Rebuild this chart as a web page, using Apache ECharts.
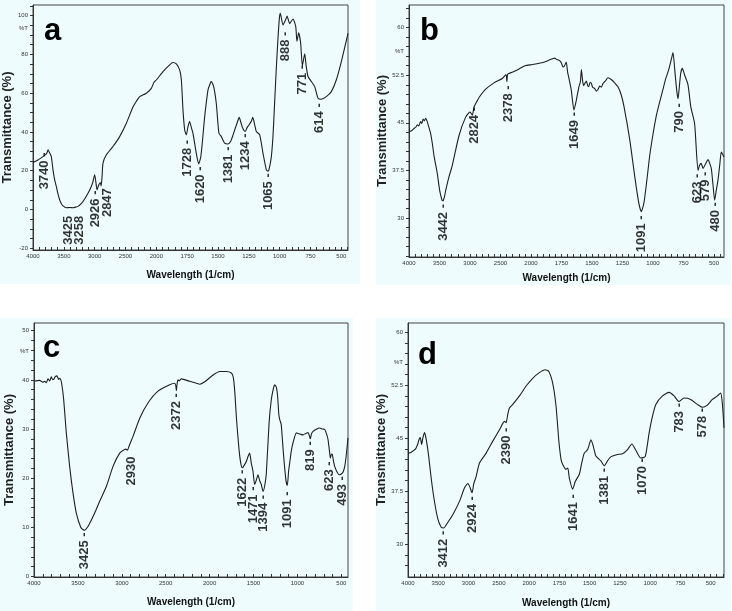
<!DOCTYPE html>
<html><head><meta charset="utf-8">
<script src="https://cdn.jsdelivr.net/npm/echarts@6/dist/echarts.min.js"></script>
<style>html,body{margin:0;padding:0;background:#fff}#c{width:732px;height:611px}</style>
</head><body><div id="c"></div><script>
// ---------- tick labels ----------
const tickLabelsSplit = ['4000','3500','3000','2500','2000','1750','1500','1250','1000','750','500'];
const tickLabelsLinear = [4000,3500,3000,2500,2000,1500,1000,500];
const yLabelsA = [-20,0,20,40,60,80,100];
const yLabelsB = [30,37.5,45,52.5,60];
const yLabelsC = [0,10,20,30,40,50];
const yLabelsD = [30,37.5,45,52.5,60];

// ---------- spectra: [wavenumber (1/cm), transmittance (%)] ----------
const spectrumA = [[4000,24.2],[3920,25.5],[3838,27.3],[3800,28.2],[3784,28.7],[3770,29.5],[3757,30.8],[3735,29.5],[3703,27.3],[3676,20.4],[3650,15.5],[3622,11.9],[3595,8],[3568,5],[3540,3],[3514,1.9],[3459,0.9],[3400,1.0],[3351,0.9],[3300,1.3],[3270,1.6],[3230,2.6],[3189,4.1],[3108,8.4],[3060,11.5],[3027,14.4],[3000,17.9],[2980,14],[2962,10.1],[2935,12.5],[2908,13.9],[2895,12.2],[2880,17],[2865,23.9],[2811,28.2],[2703,32.5],[2595,37.6],[2486,44.5],[2378,53],[2320,56],[2270,58.2],[2162,60],[2081,62.5],[2040,65.5],[2000,66.8],[1946,71.1],[1892,74.6],[1865,75.8],[1838,75.1],[1811,72],[1797,66.8],[1784,51.4],[1770,41],[1757,38.5],[1743,42.8],[1730,45.4],[1715,42],[1703,39.3],[1676,29],[1657,23.5],[1640,27],[1625,36],[1608,47.9],[1581,61.7],[1560,65.5],[1554,66],[1535,63.4],[1514,54.8],[1500,44],[1492,39.3],[1473,37.6],[1446,34.2],[1419,33.8],[1395,35.5],[1378,38.5],[1346,44.5],[1328,47.5],[1315,45],[1300,42],[1280,40.2],[1262,42.5],[1249,43.6],[1230,45.5],[1218,47.5],[1200,43],[1189,40.2],[1162,38.5],[1135,29],[1108,20.4],[1095,19.8],[1086,20.7],[1068,27],[1054,38],[1041,55],[1028,72],[1014,88],[1002,99],[995,101.2],[973,95.2],[951,98],[940,99.8],[919,95.9],[892,98.3],[870,94.5],[860,86.8],[846,91.1],[830,85.9],[816,74.1],[797,80.3],[785,74],[770,68.6],[743,66],[716,63.4],[689,57.4],[662,56.9],[622,58.2],[581,60.8],[541,66.8],[500,76.3],[446,90.9]];

const spectrumB = [[4000,43.6],[3950,43.8],[3918,44.1],[3890,44.3],[3863,44.7],[3840,44.5],[3809,45.2],[3790,44.9],[3770,45.6],[3750,45.3],[3727,45.7],[3705,45.3],[3683,44.6],[3645,43.3],[3617,41.7],[3590,39.8],[3536,37],[3500,34.5],[3481,33.6],[3458,32.8],[3443,32.7],[3420,33.3],[3399,34.3],[3344,36.5],[3290,38.3],[3180,43],[3071,45.9],[3000,46.7],[2962,46.2],[2934,47.5],[2880,48.5],[2852,49],[2743,50.3],[2607,51.3],[2470,52],[2410,52.6],[2395,51.5],[2380,52.7],[2300,53],[2197,53.5],[2100,54],[1989,54.2],[1888,54.6],[1850,54.9],[1806,55.2],[1790,55],[1765,54.8],[1750,54.4],[1738,53.8],[1725,54],[1711,54.6],[1700,53],[1692,52.3],[1670,50.2],[1648,47],[1628,48.6],[1607,50.7],[1595,51.5],[1587,53.4],[1576,51.5],[1568,50.9],[1556,51.3],[1546,51.6],[1536,50.9],[1527,50.7],[1515,51.4],[1505,51.2],[1495,50.6],[1484,50.5],[1474,50.3],[1464,50],[1450,50.3],[1437,50.8],[1423,50.6],[1410,51.2],[1390,51.6],[1369,52.1],[1340,51.8],[1310,51.2],[1287,50.7],[1262,49.5],[1238,47.6],[1191,42.4],[1150,36.6],[1117,32.4],[1096,31],[1074,32.4],[1050,36],[1027,39.8],[1000,43.2],[973,46.1],[945,48.3],[918,50.3],[895,52],[871,53.4],[850,55],[836,56.1],[820,53],[805,50],[795,48.8],[785,50.5],[773,52.8],[760,53.6],[740,52.5],[713,51],[690,47.5],[659,44.9],[631,37.5],[618,38.3],[605,38.6],[590,37.8],[570,38.5],[549,39.2],[535,38.6],[522,37.8],[507,35],[495,32.8],[480,34.5],[467,36],[452,38.5],[440,40.4],[418,39.6]];

const spectrumC = [[4000,39.7],[3935,39.9],[3900,39.5],[3879,39.7],[3860,39.4],[3841,40.2],[3820,39.8],[3803,40.6],[3790,40.1],[3776,40.1],[3760,40.6],[3738,40.8],[3720,40.1],[3708,40.3],[3695,40],[3685,39.3],[3662,36],[3632,29.2],[3594,22.4],[3556,17],[3518,12.9],[3468,10],[3440,9.5],[3423,9.4],[3400,9.8],[3374,10.5],[3309,12.9],[3252,15.3],[3176,18.3],[3100,22.4],[3024,25.1],[2970,25.8],[2956,25.9],[2935,25.7],[2918,26.5],[2895,27.5],[2872,28.5],[2796,32.2],[2702,35.3],[2588,37.7],[2455,39],[2398,39.3],[2385,38.8],[2379,37.8],[2370,39.2],[2360,40],[2345,39.8],[2322,40.2],[2227,39.7],[2150,39.3],[2113,39.1],[2056,39.6],[1961,41],[1885,41.7],[1809,41.7],[1752,41.4],[1735,40.8],[1726,40],[1711,37],[1696,32.6],[1665,25.8],[1645,23],[1627,22.1],[1600,22.8],[1582,23.4],[1560,24.5],[1544,25.1],[1525,23],[1506,21.4],[1487,18.7],[1470,19.5],[1449,20.7],[1430,19.5],[1411,18.7],[1392,17.3],[1372,18.5],[1354,21],[1323,31.2],[1297,36],[1270,38.5],[1259,39],[1240,38.5],[1225,36.5],[1212,33],[1200,31.8],[1185,31],[1172,28],[1150,23],[1130,19.5],[1115,18.5],[1100,21.5],[1088,23.1],[1070,25.5],[1050,27.2],[1012,29.2],[993,29.1],[960,28.9],[936,28.8],[905,29.1],[879,29.3],[862,28.5],[853,28],[840,29],[822,29.5],[780,30],[746,30.2],[715,30],[689,29.9],[665,28.8],[651,27.8],[635,25.5],[625,24.1],[612,24.9],[602,24.8],[590,23.5],[576,22.4],[550,21.3],[526,20.7],[505,20.8],[481,21.2],[460,22.5],[443,24.8],[424,28.2]];

const spectrumD = [[4000,42.9],[3950,43],[3918,43.2],[3874,43.5],[3852,43.9],[3835,44.3],[3819,44.8],[3797,45.1],[3775,44.1],[3753,45.1],[3725,45.8],[3698,44.8],[3659,42.5],[3615,39.2],[3560,35.9],[3505,33.5],[3451,32.4],[3412,32.3],[3341,33.1],[3258,34.2],[3148,36.1],[3066,38],[3011,38.6],[2973,38],[2950,37.4],[2940,37.3],[2915,38.5],[2901,38.9],[2874,39.6],[2819,41.5],[2709,42.9],[2599,44.6],[2489,46.2],[2407,47.4],[2379,47.2],[2352,48.4],[2324,49.3],[2269,49.8],[2159,51],[2049,52.4],[1970,53.5],[1915,54.3],[1868,54.7],[1838,54.5],[1805,52.8],[1777,49.5],[1755,44.8],[1736,42],[1722,41.3],[1695,40.6],[1680,40.8],[1668,39.4],[1640,37.8],[1618,38.9],[1585,39.9],[1565,41.5],[1544,42.9],[1516,43.4],[1489,44.8],[1470,43.9],[1448,42.5],[1407,41.8],[1379,41.1],[1352,41.8],[1330,42.3],[1310,42.5],[1269,42.7],[1228,42.8],[1187,43.4],[1151,44.2],[1118,43.3],[1077,42.2],[1041,42.4],[1008,45.8],[981,48.1],[953,49.8],[898,51],[843,51.5],[802,51],[761,50.2],[720,50.7],[665,50.5],[610,49.8],[569,49.4],[527,49.7],[486,50.5],[445,51],[418,51.4],[404,50],[390,46.5]];

// ---------- peak annotations: [wavenumber, transmittance at label top, text] ----------
const peaksA = [[3811,29.4,'3740 -'],[3432,-3.3,'3425'],[3243,-3.3,'3258'],[2984,9.8,'2926 -'],[2800,11,'2847'],[1751,35.9,'1728 -'],[1643,22.2,'1620 -'],[1419,32.5,'1381 -'],[1276,39.3,'1234 -'],[1095,18.7,'1065 -'],[951,91.8,'888 -'],[819,74.6,'771 -'],[676,54.8,'614 -']];
const peaksB = [[3443,32.2,'3442 -'],[2934,47.5,'2824 -'],[2372,50.9,'2378 -'],[1648,46.7,'1649 -'],[1093,30.4,'1091 -'],[787,48.1,'790 -'],[637,37,'623 -'],[568,37.3,'579 -'],[486,32.5,'480 -']];
const peaksC = [[3423,8.95,'3425 -'],[2891,24.4,'2930'],[2379,37.3,'2372 -'],[1627,21.7,'1622 -'],[1498,18.3,'1471 -'],[1392,16.6,'1394 -'],[1115,17.3,'1091 -'],[849,27.5,'819 -'],[632,23.4,'623 -'],[488,20.4,'493 -']];
const peaksD = [[3412,31.9,'3412 -'],[2940,36.8,'2924 -'],[2379,46.5,'2390 -'],[1635,37.1,'1641 -'],[1374,40.8,'1381 -'],[1063,42.2,'1070 -'],[755,50,'783 -'],[569,49.3,'578 -']];

// split wavenumber scale (4000-2000 compressed, 2000-500 expanded), in label units
function splitPos(w){ return w >= 2000 ? (4000 - w) / 500 : 4 + (2000 - w) / 250; }
function linPos(w){ return w; }

const FONT = 'Liberation Sans, Arial, sans-serif';
const panels = [
  {letter:'a', spectrum:spectrumA, peaks:peaksA, split:true, xEnd:446, yMin:-20.9, yMax:105.5, yLabels:yLabelsA, pct:93.5, yStep:5, yStart:-20,
   grid:{left:33, top:5, width:315, height:245}, gapX:20, gapY:9, title:{left:44, top:16}},
  {letter:'b', spectrum:spectrumB, peaks:peaksB, split:true, xEnd:418, yMin:23.84, yMax:63.58, yLabels:yLabelsB, pct:56.2, yStep:1.5, yStart:24,
   grid:{left:409, top:5, width:315, height:252}, gapX:16, gapY:11, title:{left:420, top:16}},
  {letter:'c', spectrum:spectrumC, peaks:peaksC, split:false, xEnd:424, yMin:-0.12, yMax:51.57, yLabels:yLabelsC, pct:45.9, yStep:2, yStart:0,
   grid:{left:34, top:323, width:314, height:254}, gapX:20, gapY:10, title:{left:43, top:333}},
  {letter:'d', spectrum:spectrumD, peaks:peaksD, split:true, xEnd:390, yMin:25.35, yMax:61.33, yLabels:yLabelsD, pct:55.8, yStep:1.5, yStart:27,
   grid:{left:408, top:323, width:316, height:254}, gapX:21, gapY:11, title:{left:418, top:340}}
];

const option = {
  animation:false,
  backgroundColor:'#ffffff',
  graphic:[
    {type:'rect', z:-10, shape:{x:0, y:0, width:360, height:284}, style:{fill:'#effcfe'}},
    {type:'rect', z:-10, shape:{x:376, y:0, width:355, height:285}, style:{fill:'#effcfe'}},
    {type:'rect', z:-10, shape:{x:0, y:318, width:353, height:293}, style:{fill:'#effcfe'}},
    {type:'rect', z:-10, shape:{x:376, y:318, width:355, height:293}, style:{fill:'#effcfe'}}
  ],
  title:[], grid:[], xAxis:[], yAxis:[], series:[]
};

panels.forEach((p, i) => {
  const pos = p.split ? splitPos : linPos;
  option.title.push({text:p.letter, left:p.title.left, top:p.title.top, padding:0,
    textStyle:{fontSize:31, fontWeight:'bold', color:'#000', fontFamily:FONT}});
  option.grid.push(Object.assign({show:true, borderColor:'#444', borderWidth:1, backgroundColor:'transparent'}, p.grid));

  let xTicks = [], xLabelVals, xFmt;
  if (p.split) {
    for (let t = 0; t <= pos(p.xEnd) + 1e-9; t += 0.2) xTicks.push(+t.toFixed(2));
    xLabelVals = tickLabelsSplit.map((_, k) => k);
    xFmt = v => tickLabelsSplit[Math.round(v)];
  } else {
    for (let w = 4000; w >= 500; w -= 100) xTicks.push(w);
    xLabelVals = tickLabelsLinear.slice();
    xFmt = v => String(v);
  }
  option.xAxis.push({
    gridIndex:i, type:'value',
    min: p.split ? 0 : p.xEnd, max: p.split ? pos(p.xEnd) : 4000, inverse: !p.split,
    axisLine:{show:true, onZero:false, lineStyle:{color:'#333', width:1}},
    axisTick:{show:true, inside:true, length:3, customValues:xTicks, lineStyle:{color:'#333'}},
    axisLabel:{show:true, customValues:xLabelVals, formatter:xFmt, fontSize:6, color:'#333', margin:3, fontFamily:FONT},
    splitLine:{show:false},
    name:'Wavelength (1/cm)', nameLocation:'middle', nameGap:p.gapX,
    nameTextStyle:{fontSize:10, fontWeight:'bold', color:'#111', fontFamily:FONT}
  });

  const yTicks = [];
  for (let v = p.yStart; v <= p.yMax + 1e-9; v += p.yStep) yTicks.push(+v.toFixed(3));
  const pct = p.pct;
  option.yAxis.push({
    gridIndex:i, type:'value', min:p.yMin, max:p.yMax,
    axisLine:{show:true, onZero:false, lineStyle:{color:'#333', width:1}},
    axisTick:{show:true, inside:false, length:3, customValues:yTicks, lineStyle:{color:'#333'}},
    axisLabel:{show:true, customValues:p.yLabels.concat([pct]), formatter:v => (Math.abs(v - pct) < 1e-6 ? '%T' : String(v)),
      fontSize:6, color:'#333', margin:5, fontFamily:FONT},
    splitLine:{show:false},
    name:'Transmittance (%)', nameLocation:'middle', nameGap:p.gapY, nameRotate:90,
    nameTextStyle:{fontSize:13, fontWeight:'bold', color:'#222', fontFamily:FONT}
  });

  option.series.push({
    type:'line', xAxisIndex:i, yAxisIndex:i, showSymbol:false, smooth:0.2,
    data:p.spectrum.map(d => [pos(d[0]), d[1]]),
    lineStyle:{color:'#1e1e1e', width:1.1}, silent:true, z:3
  });
  option.series.push({
    type:'scatter', xAxisIndex:i, yAxisIndex:i, symbolSize:1, silent:true,
    itemStyle:{color:'rgba(0,0,0,0)'},
    data:p.peaks.map(d => ({value:[pos(d[0]), d[1]], name:d[2]})),
    label:{show:true, formatter:q => q.name, rotate:90, position:'inside', align:'right', verticalAlign:'middle',
      fontSize:13, fontWeight:'bold', color:'#000', fontFamily:FONT},
    z:4
  });
});

const chart = echarts.init(document.getElementById('c'), null, {renderer:'canvas'});
chart.setOption(option);
</script></body></html>
